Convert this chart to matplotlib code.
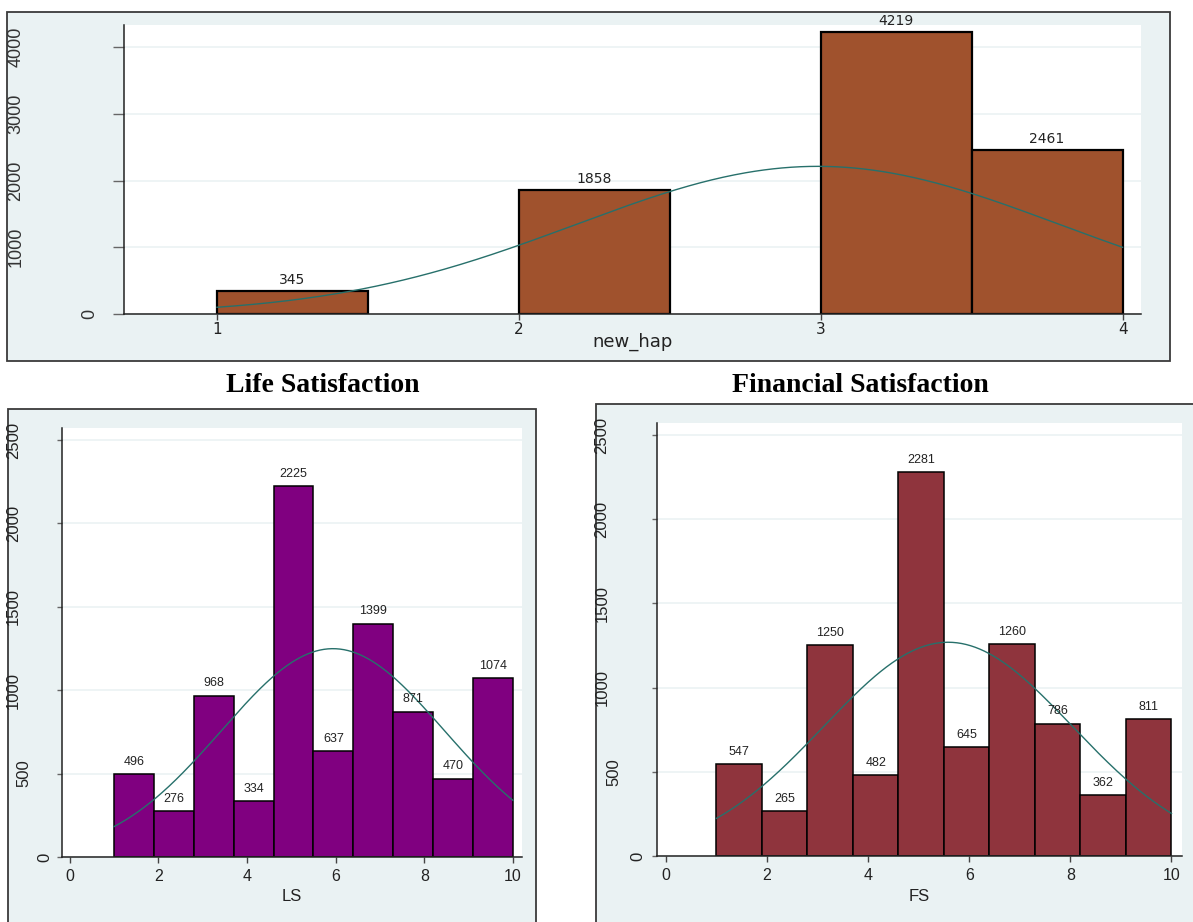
import numpy as np
import matplotlib
matplotlib.use("Agg")
import matplotlib.pyplot as plt
from matplotlib.patches import Rectangle
from matplotlib.transforms import ScaledTranslation


# --- Data ---

hap_levels = [1, 2, 3, 4]
hap_counts = [345, 1858, 4219, 2461]

ls_levels = [1, 2, 3, 4, 5, 6, 7, 8, 9, 10]
ls_counts = [496, 276, 968, 334, 2225, 637, 1399, 871, 470, 1074]

fs_levels = [1, 2, 3, 4, 5, 6, 7, 8, 9, 10]
fs_counts = [547, 265, 1250, 482, 2281, 645, 1260, 786, 362, 811]

hap_xticks = [1, 2, 3, 4]
hap_yticks = [0, 1000, 2000, 3000, 4000]
sat_xticks = [0, 2, 4, 6, 8, 10]
sat_yticks = [0, 500, 1000, 1500, 2000, 2500]


# --- Style ---

W, H, DPI = 1193, 922, 100
BG = "#EAF2F3"
GRID = "#EDF3F4"
BORDER = "#3a3a3a"
AXIS = "#222222"
CURVE = "#27706b"
NARROW = ["Liberation Sans", "DejaVu Sans"]
WIDE = ["DejaVu Sans"]


# Converts a pixel box (left, top, right, bottom) into figure fractions
def px_rect(x0, y0, x1, y1):
    return [x0 / W, 1 - y1 / H, (x1 - x0) / W, (y1 - y0) / H]


# Draws the grey panel with its frame behind an axes
def panel(fig, x0, y0, x1, y1):
    l, b, w, h = px_rect(x0, y0, x1, y1)
    fig.add_artist(Rectangle((l, b), w, h, transform=fig.transFigure,
                             facecolor=BG, edgecolor=BORDER, linewidth=1.3, zorder=-5))


# Frequency histogram with value labels and a normal density overlay
def draw_hist(ax, levels, counts, nbins, colour, edge_lw, label_kw, label_gap):
    levels = np.asarray(levels, dtype=float)
    counts = np.asarray(counts, dtype=float)
    lo, hi = levels.min(), levels.max()
    width = (hi - lo) / nbins
    idx = np.minimum(np.floor((levels - lo) / width + 1e-9), nbins - 1)
    lefts = lo + idx * width

    bars = ax.bar(lefts, counts, width=width, align="edge", color=colour,
                  edgecolor="black", linewidth=edge_lw, zorder=2)
    for bar, c in zip(bars, counts):
        ax.annotate(f"{int(c)}", (bar.get_x() + bar.get_width() / 2, c),
                    textcoords="offset points", xytext=(0, label_gap),
                    ha="center", va="bottom", zorder=4, **label_kw)

    n = counts.sum()
    mean = (levels * counts).sum() / n
    sd = np.sqrt(((levels - mean) ** 2 * counts).sum() / (n - 1))
    xs = np.linspace(lo, hi, 400)
    dens = np.exp(-0.5 * ((xs - mean) / sd) ** 2) / (sd * np.sqrt(2 * np.pi))
    ax.plot(xs, n * width * dens, color=CURVE, linewidth=1.0, zorder=3)


# Axis styling: left/bottom lines, outward ticks, faint horizontal grid
def style_axes(ax, xlim, ylim, xticks, yticks, ytick_len, xtick_len, xpad,
               xtick_kw, ylab_kw, ylab_base, ylab_step):
    ax.set_xlim(*xlim)
    ax.set_ylim(*ylim)
    ax.set_facecolor("white")
    for side in ("top", "right"):
        ax.spines[side].set_visible(False)
    for side in ("left", "bottom"):
        ax.spines[side].set_color(AXIS)
        ax.spines[side].set_linewidth(1.1)
        ax.spines[side].set_zorder(5)

    ax.set_xticks(xticks)
    ax.set_xticklabels([str(t) for t in xticks], **xtick_kw)
    ax.set_yticks(yticks)
    ax.tick_params(axis="y", labelleft=False, length=ytick_len, width=1.0, color="#666666")
    ax.tick_params(axis="x", length=xtick_len, width=1.0, color="#444444", pad=xpad)

    ax.set_axisbelow(True)
    ax.yaxis.grid(True, color=GRID, linewidth=1.3)

    # rotated y labels, shifted left by their length
    fig = ax.figure
    for v in yticks:
        txt = str(v)
        dx = -(ylab_base + ylab_step * len(txt)) / DPI
        trans = ax.get_yaxis_transform() + ScaledTranslation(dx, 0, fig.dpi_scale_trans)
        ax.text(0, v, txt, transform=trans, rotation=90, ha="center", va="center",
                clip_on=False, **ylab_kw)


fig = plt.figure(figsize=(W / DPI, H / DPI), dpi=DPI)
fig.patch.set_facecolor("white")

# --- Happiness panel ---
panel(fig, 7, 12, 1170, 361)
ax_h = fig.add_axes(px_rect(124, 25, 1141, 314))
draw_hist(ax_h, hap_levels, hap_counts, 6, "#A0522D", 1.6,
          dict(fontsize=10, family=WIDE, color="#222222"), 3)
style_axes(ax_h, (0.692, 4.061), (0, 4330), hap_xticks, hap_yticks,
           ytick_len=8, xtick_len=4.3, xpad=1.5,
           xtick_kw=dict(fontsize=11, family=WIDE, color="#222222"),
           ylab_kw=dict(fontsize=13, family=NARROW, color="#333333"),
           ylab_base=10, ylab_step=24.5)
ax_h.set_xlabel("new_hap", fontsize=13, family=WIDE, color="#222222", labelpad=0)
ax_h.xaxis.set_label_coords(0.5, -0.095)
ax_h.xaxis.label.set_va("center")

# --- Life satisfaction panel ---
panel(fig, 8, 409, 536, 935)
ax_l = fig.add_axes(px_rect(62, 428, 522, 857))
draw_hist(ax_l, ls_levels, ls_counts, 10, "#800080", 1.1,
          dict(fontsize=9, family=NARROW, color="#222222"), 4.5)
style_axes(ax_l, (-0.171, 10.203), (0, 2572), sat_xticks, sat_yticks,
           ytick_len=3.6, xtick_len=4.3, xpad=4,
           xtick_kw=dict(fontsize=11.5, family=NARROW, color="#222222"),
           ylab_kw=dict(fontsize=12, family=NARROW, color="#222222"),
           ylab_base=6.5, ylab_step=10.5)
ax_l.set_xlabel("LS", fontsize=12, family=NARROW, color="#222222")
ax_l.xaxis.set_label_coords(0.5, -(896 - 857) / (857 - 428))
ax_l.xaxis.label.set_va("center")
fig.text(323 / W, 1 - 386 / H, "Life Satisfaction", ha="center", va="center",
         fontsize=20, fontweight="bold", family="Liberation Serif")

# --- Financial satisfaction panel ---
panel(fig, 596, 404, 1205, 935)
ax_f = fig.add_axes(px_rect(656.5, 423.5, 1181.5, 856))
draw_hist(ax_f, fs_levels, fs_counts, 10, "#8F343D", 1.1,
          dict(fontsize=9, family=NARROW, color="#222222"), 4.5)
style_axes(ax_f, (-0.184, 10.198), (0, 2568), sat_xticks, sat_yticks,
           ytick_len=3.6, xtick_len=4.3, xpad=4,
           xtick_kw=dict(fontsize=11.5, family=NARROW, color="#222222"),
           ylab_kw=dict(fontsize=12, family=NARROW, color="#222222"),
           ylab_base=6.5, ylab_step=12)
ax_f.set_xlabel("FS", fontsize=12, family=NARROW, color="#222222")
ax_f.xaxis.set_label_coords(0.5, -(896 - 856) / (856 - 423.5))
ax_f.xaxis.label.set_va("center")
fig.text(860 / W, 1 - 386 / H, "Financial Satisfaction", ha="center", va="center",
         fontsize=20, fontweight="bold", family="Liberation Serif")

fig.savefig("out.png", dpi=DPI)
plt.close(fig)
